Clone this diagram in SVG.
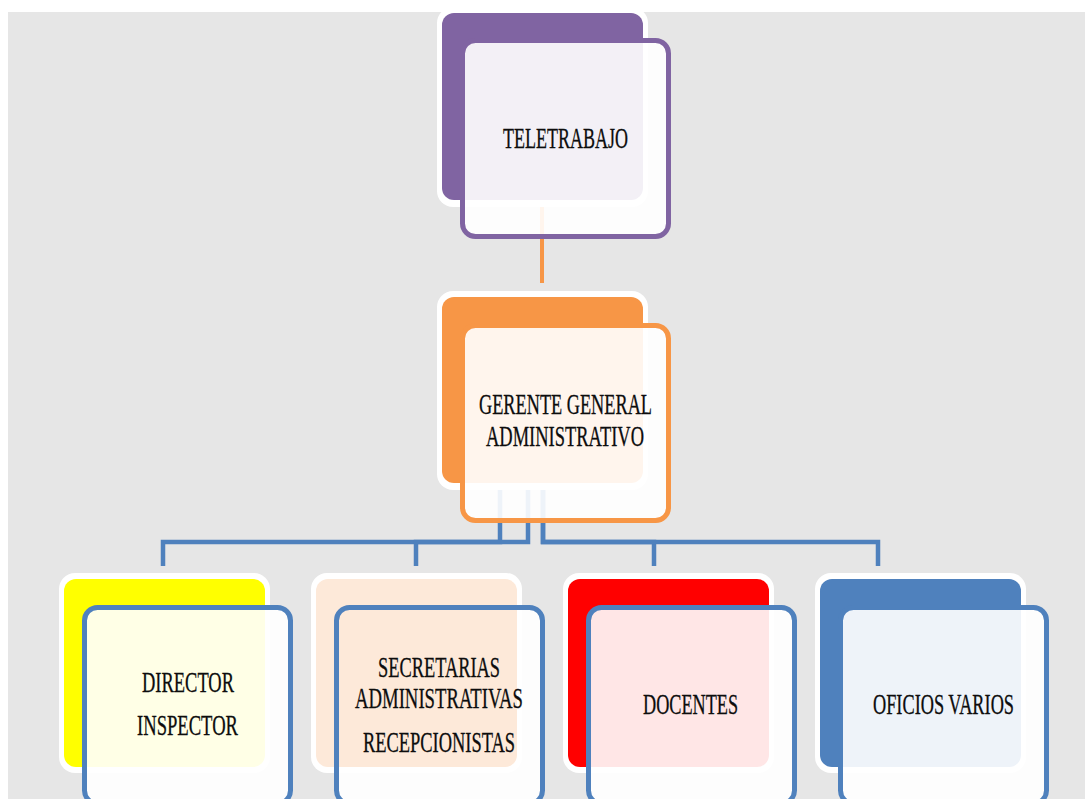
<svg xmlns="http://www.w3.org/2000/svg" width="1085" height="799" viewBox="0 0 1085 799">
  <style>
    .halo { fill: #ffffff; }
    .face { fill: #ffffff; fill-opacity: 0.9; }
    .rim { fill: none; stroke-width: 5; }
    .rim-purple { stroke: #8064a2; }
    .rim-orange { stroke: #f79646; }
    .rim-blue { stroke: #4f81bd; }
    .lbl { font-family: "Liberation Serif", "DejaVu Serif", serif; font-size: 30px; fill: #0d0d0d; stroke: #0d0d0d; stroke-width: 0.3; text-anchor: middle; }
    .link { fill: none; stroke: #4f81bd; stroke-width: 4.5; stroke-linejoin: miter; }
    .link-top { fill: none; stroke: #f79646; stroke-width: 4; }
  </style>

  <!-- page background -->
  <rect x="0" y="0" width="1085" height="799" fill="#ffffff"/>
  <rect x="8" y="12" width="1077" height="787" fill="#e6e6e6"/>

  <!-- back cards (coloured accent plates) -->
  <g id="back-teletrabajo">
    <rect class="halo" x="437" y="7" width="211" height="200" rx="16"/>
    <rect x="442" y="13" width="201" height="187" rx="12" fill="#8064a2"/>
  </g>
  <g id="back-gerente">
    <rect class="halo" x="437" y="291" width="211" height="199" rx="16"/>
    <rect x="442" y="297" width="201" height="186" rx="12" fill="#f79646"/>
  </g>
  <g id="back-director">
    <rect class="halo" x="59" y="573" width="211" height="200" rx="16"/>
    <rect x="64" y="579" width="201" height="188" rx="12" fill="#ffff00"/>
  </g>
  <g id="back-secretarias">
    <rect class="halo" x="311" y="573" width="211" height="200" rx="16"/>
  </g>
  <g id="back-docentes">
    <rect class="halo" x="563" y="573" width="211" height="200" rx="16"/>
    <rect x="568" y="579" width="201" height="188" rx="12" fill="#ff0000"/>
  </g>
  <g id="back-oficios">
    <rect class="halo" x="815" y="573" width="211" height="200" rx="16"/>
    <rect x="820" y="579" width="201" height="188" rx="12" fill="#4f81bd"/>
  </g>

  <!-- connectors -->
  <g id="connectors">
    <path class="link-top" d="M542,207 V283"/>
    <path class="link" d="M500,490 V542 H163 V566"/>
    <path class="link" d="M528,490 V542 H416 V566"/>
    <path class="link" d="M543,490 V542 H654 V566"/>
    <path class="link" d="M543,490 V542 H878 V566"/>
  </g>

  <!-- front cards with labels -->
  <g id="node-teletrabajo">
    <rect class="face" x="462.5" y="40.5" width="206" height="196" rx="13"/>
    <rect class="rim rim-purple" x="462.5" y="40.5" width="206" height="196" rx="13"/>
    <text class="lbl" x="565.5" y="148" textLength="125" lengthAdjust="spacingAndGlyphs">TELETRABAJO</text>
  </g>

  <g id="node-gerente">
    <rect class="face" x="462.5" y="325.5" width="206" height="195" rx="13"/>
    <rect class="rim rim-orange" x="462.5" y="325.5" width="206" height="195" rx="13"/>
    <text class="lbl" x="565.5" y="414" textLength="173" lengthAdjust="spacingAndGlyphs">GERENTE GENERAL</text>
    <text class="lbl" x="565" y="446" textLength="158" lengthAdjust="spacingAndGlyphs">ADMINISTRATIVO</text>
  </g>

  <g id="node-director">
    <rect class="face" x="84.5" y="607.5" width="206" height="196" rx="13"/>
    <rect class="rim rim-blue" x="84.5" y="607.5" width="206" height="196" rx="13"/>
    <text class="lbl" x="188" y="692" textLength="92" lengthAdjust="spacingAndGlyphs">DIRECTOR</text>
    <text class="lbl" x="187.5" y="735" textLength="101" lengthAdjust="spacingAndGlyphs">INSPECTOR</text>
  </g>

  <g id="node-secretarias">
    <rect class="face" x="336.5" y="607.5" width="206" height="196" rx="13"/>
    <!-- peach plate shows through the face of this card -->
    <rect x="316" y="579" width="201" height="188" rx="12" fill="#fde9d9"/>
    <rect class="rim rim-blue" x="336.5" y="607.5" width="206" height="196" rx="13"/>
    <text class="lbl" x="439" y="677" textLength="122" lengthAdjust="spacingAndGlyphs">SECRETARIAS</text>
    <text class="lbl" x="439" y="708" textLength="168" lengthAdjust="spacingAndGlyphs">ADMINISTRATIVAS</text>
    <text class="lbl" x="439" y="752" textLength="152" lengthAdjust="spacingAndGlyphs">RECEPCIONISTAS</text>
  </g>

  <g id="node-docentes">
    <rect class="face" x="588.5" y="607.5" width="206" height="196" rx="13"/>
    <rect class="rim rim-blue" x="588.5" y="607.5" width="206" height="196" rx="13"/>
    <text class="lbl" x="690.5" y="714" textLength="95" lengthAdjust="spacingAndGlyphs">DOCENTES</text>
  </g>

  <g id="node-oficios">
    <rect class="face" x="840.5" y="607.5" width="206" height="196" rx="13"/>
    <rect class="rim rim-blue" x="840.5" y="607.5" width="206" height="196" rx="13"/>
    <text class="lbl" x="943.5" y="714" textLength="141" lengthAdjust="spacingAndGlyphs">OFICIOS VARIOS</text>
  </g>
</svg>
